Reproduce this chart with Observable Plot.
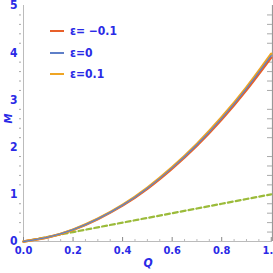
<!DOCTYPE html>
<html><head><meta charset="utf-8">
<script src="https://cdn.jsdelivr.net/npm/d3@7"></script>
<script src="https://cdn.jsdelivr.net/npm/@observablehq/plot@0.6"></script>
<style>
body{margin:0;background:#fff;}
#wrap{position:relative;width:273px;height:273px;font-family:"Liberation Sans Narrow","DejaVu Sans Condensed",sans-serif;}
.leg{position:absolute;left:50px;font:bold 12px "Liberation Sans Narrow","DejaVu Sans Condensed",sans-serif;color:#2a2ae6;display:flex;align-items:center;}
.leg span.l{display:inline-block;width:14px;height:2.5px;margin-right:6px;}
</style></head>
<body><div id="wrap"></div>
<script>
const Q = [0, 0.1, 0.2, 0.3, 0.4, 0.5, 0.6, 0.7, 0.8, 0.9, 1.0];
const M_m01 = [0, 0.091, 0.247, 0.475, 0.762, 1.118, 1.545, 2.03, 2.585, 3.21, 3.90];
const M_0   = [0, 0.092, 0.25, 0.48, 0.77, 1.13, 1.56, 2.05, 2.61, 3.24, 3.94];
const M_p01 = [0, 0.093, 0.253, 0.485, 0.778, 1.142, 1.575, 2.07, 2.635, 3.27, 3.98];
const Mref  = [0, 0.1, 0.2, 0.3, 0.4, 0.5, 0.6, 0.7, 0.8, 0.9, 1.0];
const xTicks = [0, 0.2, 0.4, 0.6, 0.8, 1.0];
const xMinor = [0.05,0.1,0.15,0.25,0.3,0.35,0.45,0.5,0.55,0.65,0.7,0.75,0.85,0.9,0.95];
const yTicks = [0, 1, 2, 3, 4, 5];
const yMinor = [0.2,0.4,0.6,0.8,1.2,1.4,1.6,1.8,2.2,2.4,2.6,2.8,3.2,3.4,3.6,3.8,4.2,4.4,4.6,4.8];
const legendLabels = ["ε= −0.1", "ε=0", "ε=0.1"];
const colors = ["#E8602A", "#5E7FC8", "#EFA524"];
const greenDash = "#9BBB3A";

const series = [M_m01, M_0, M_p01];
const rows = [];
series.forEach((arr, k) => arr.forEach((m, i) => rows.push({q: Q[i], m, s: k})));
const ref = Q.map((q, i) => ({q, m: Mref[i]}));

const blue = "#2a2ae6";
const font = 'bold 11px "Liberation Sans Narrow","DejaVu Sans Condensed",sans-serif';

const chart = Plot.plot({
  width: 273, height: 273,
  marginLeft: 23, marginRight: 1, marginTop: 5, marginBottom: 32,
  x: {domain: [0, 1.005]},
  y: {domain: [0, 5]},
  style: {font: font, color: blue, background: "#fff"},
  marks: [
    Plot.ruleX([0], {stroke: "#bbb"}),
    Plot.ruleX([1.005], {stroke: "#999", strokeWidth: 1.2}),
    Plot.ruleY([0], {stroke: "#bbb"}),
    Plot.tickX(xTicks, {x: d => d, insetTop: 232, stroke: "#888"}),
    Plot.tickX(xMinor, {x: d => d, insetTop: 234, stroke: "#bbb"}),
    Plot.tickY(yMinor, {y: d => d, insetLeft: 244, stroke: "#aaa"}),
    Plot.axisX({ticks: xTicks, tickSize: 0, tickPadding: 5, tickFormat: d3.format(".1f"), fill: blue, fontWeight: "bold", fontSize: 11, label: null}),
    Plot.axisY({ticks: yTicks, tickSize: 0, tickPadding: 6, tickFormat: d3.format("d"), fill: blue, fontWeight: "bold", fontSize: 12, label: null}),
    Plot.axisY({ticks: yMinor, tickSize: 2, tickPadding: 0, tickFormat: () => "", stroke: "#aaa", dx: -2, label: null}),
    Plot.line(ref, {x: "q", y: "m", stroke: greenDash, strokeWidth: 2.2, strokeDasharray: "5,3", curve: "linear"}),
    Plot.line(rows.filter(d => d.s === 0), {x: "q", y: "m", stroke: colors[0], strokeWidth: 2.4, curve: "natural"}),
    Plot.line(rows.filter(d => d.s === 2), {x: "q", y: "m", stroke: colors[2], strokeWidth: 2.4, curve: "natural"}),
    Plot.line(rows.filter(d => d.s === 1), {x: "q", y: "m", stroke: colors[1], strokeWidth: 1.3, curve: "natural"}),
    Plot.text(["Q"], {frameAnchor: "bottom", dy: 25, fill: blue, fontStyle: "italic", fontWeight: "bold", fontSize: 12}),
    Plot.text(["M"], {frameAnchor: "left", dx: -15, dy: 0, rotate: -90, fill: blue, fontStyle: "italic", fontWeight: "bold", fontSize: 11})
  ]
});
const wrap = document.getElementById("wrap");
wrap.appendChild(chart);
const tops = [24, 46, 67];
legendLabels.forEach((t, i) => {
  const d = document.createElement("div");
  d.className = "leg";
  d.style.top = tops[i] + "px";
  d.innerHTML = `<span class="l" style="background:${colors[i]}"></span>${t}`;
  wrap.appendChild(d);
});
</script></body></html>
